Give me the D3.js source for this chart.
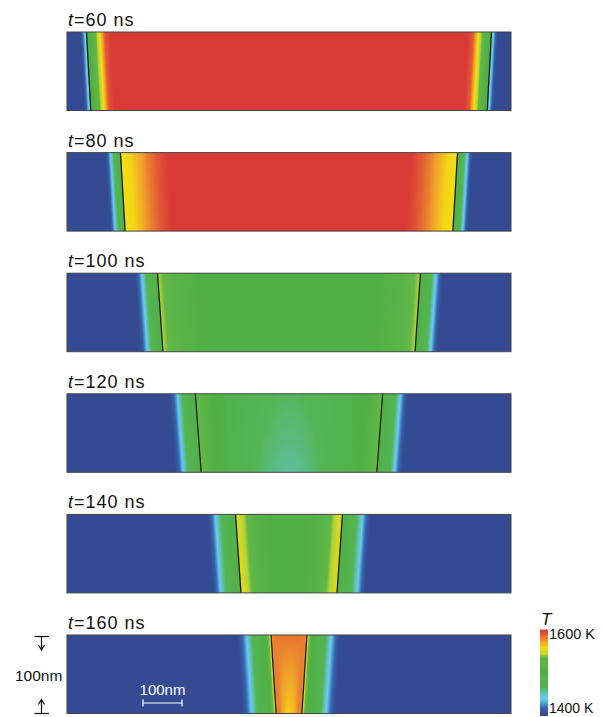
<!DOCTYPE html>
<html>
<head>
<meta charset="utf-8">
<script src="https://cdn.jsdelivr.net/npm/d3@7.9.0/dist/d3.min.js"></script>
<style>
  body { margin: 0; background: #fff; }
  svg text { font-family: "Liberation Sans", Arial, sans-serif; fill: #111; }
</style>
</head>
<body>
<svg id="chart" width="604" height="717"></svg>
<script>
// snapshot times (ns)
const times = [60, 80, 100, 120, 140, 160];
// half width of the molten zone (nm from centre) at top and bottom of the film
const frontTop = [519, 432, 337, 240, 137, 46];
const frontBottom = [508, 420, 323, 225, 123, 33];
// melt temperature in the middle of the zone (K), top and bottom
const meltCenterTop = [1600, 1600, 1498, 1464, 1498, 1582];
const meltCenterBottom = [1600, 1600, 1498, 1456, 1498, 1560];
// temperature profile across the front: [distance from front in nm (neg = melt side), T in K]
const profiles = [
  [[-60, 1600], [-46, 1588], [-36, 1560], [-28, 1545], [-12, 1510], [0, 1490], [1, 1452], [5, 1440], [10, 1420], [16, 1400]],
  [[-120, 1600], [-70, 1580], [-25, 1558], [0, 1555], [0.5, 1500], [16, 1472], [24, 1445], [30, 1425], [38, 1400]],
  [[-110, 1500], [-40, 1520], [0, 1543], [0.5, 1500], [28, 1470], [38, 1445], [46, 1425], [58, 1400]],
  [[-35, 1505], [-15, 1520], [0, 1540], [0.5, 1500], [32, 1470], [44, 1445], [52, 1425], [66, 1400]],
  [[-90, 1500], [-55, 1512], [-20, 1542], [0, 1552], [0.5, 1500], [34, 1470], [50, 1445], [58, 1425], [72, 1400]],
  [[-10, 1580], [0, 1578], [0.5, 1555], [8, 1530], [14, 1500], [46, 1470], [60, 1445], [70, 1425], [86, 1400]]
];
// colour bar
const cbarLabels = ["1600 K", "1400 K"];
const cmapTemps = [1400, 1418, 1430, 1440, 1452, 1465, 1500, 1535, 1542, 1555, 1572, 1588, 1600];
const cmapColors = ["#344a93", "#3a60ab", "#4aa3dc", "#6ccbef", "#62c1b4", "#55b556", "#50b045",
                    "#62b848", "#b5d334", "#f4df12", "#f0a02a", "#e25c34", "#d93a35"];

const svg = d3.select('#chart');

const x0 = 67, W = 444, H = 78.5;
const halfSpan = 569; // nm
const xScale = d3.scaleLinear().domain([-halfSpan, halfSpan]).range([0, W]);
const panelTop = d3.scaleLinear().domain([0, 5]).range([32, 635]);

const color = d3.scaleLinear().domain(cmapTemps).range(cmapColors)
  .interpolate(d3.interpolateRgb).clamp(true);

const profScales = profiles.map(p =>
  d3.scaleLinear().domain(p.map(d => d[0])).range(p.map(d => d[1])).clamp(true));

function tempAt(i, xnm, v) {
  const w = frontTop[i] + (frontBottom[i] - frontTop[i]) * v;
  const d = Math.abs(xnm) - w;
  const first = profiles[i][0];
  if (d >= first[0]) return profScales[i](d);
  // blend from last profile point into the centre value
  const tc = meltCenterTop[i] + (meltCenterBottom[i] - meltCenterTop[i]) * v;
  let f = (d - first[0]) / (-w - first[0]);
  f = Math.max(0, Math.min(1, f));
  f = f * (2 - f);
  return first[1] + (tc - first[1]) * f;
}

times.forEach((t, i) => {
  const top = panelTop(i);

  // temperature field drawn to a canvas, then placed in the svg
  const cw = W, ch = Math.round(H);
  const canvas = document.createElement('canvas');
  canvas.width = cw; canvas.height = ch;
  const ctx = canvas.getContext('2d');
  const img = ctx.createImageData(cw, ch);
  for (let py = 0; py < ch; py++) {
    const v = (py + 0.5) / ch;
    for (let px = 0; px < cw; px++) {
      const xnm = xScale.invert(px + 0.5);
      const c = d3.rgb(color(tempAt(i, xnm, v)));
      const k = (py * cw + px) * 4;
      img.data[k] = c.r; img.data[k + 1] = c.g; img.data[k + 2] = c.b; img.data[k + 3] = 255;
    }
  }
  ctx.putImageData(img, 0, 0);

  const g = svg.append('g').attr('transform', `translate(${x0},${top})`);
  g.append('image')
    .attr('href', canvas.toDataURL())
    .attr('width', W).attr('height', H)
    .attr('preserveAspectRatio', 'none');

  // solid/liquid fronts
  [-1, 1].forEach(s => {
    g.append('line')
      .attr('x1', xScale(s * frontTop[i])).attr('y1', 0)
      .attr('x2', xScale(s * frontBottom[i])).attr('y2', H)
      .attr('stroke', '#1b1b1b').attr('stroke-width', 1.3);
  });

  g.append('rect')
    .attr('width', W).attr('height', H)
    .attr('fill', 'none').attr('stroke', '#454545').attr('stroke-width', 1);

  // title
  const title = svg.append('text')
    .attr('x', x0 + 1).attr('y', top - 6)
    .attr('font-size', 18).attr('letter-spacing', 1);
  title.append('tspan').attr('font-style', 'italic').text('t');
  title.append('tspan').text(`=${t} ns`);
});

// thickness marker on the last panel
const lastTop = panelTop(5);
const ax = 41.5;
const arrows = svg.append('g').attr('stroke', '#111').attr('stroke-width', 1.2).attr('fill', 'none');
arrows.append('line').attr('x1', 34.5).attr('x2', 49).attr('y1', lastTop + 1.5).attr('y2', lastTop + 1.5);
arrows.append('line').attr('x1', ax).attr('x2', ax).attr('y1', lastTop + 1.5).attr('y2', lastTop + 14);
arrows.append('path').attr('d', `M${ax - 3},${lastTop + 10} L${ax},${lastTop + 15} L${ax + 3},${lastTop + 10}`);
arrows.append('line').attr('x1', 34.5).attr('x2', 49).attr('y1', lastTop + H).attr('y2', lastTop + H);
arrows.append('line').attr('x1', ax).attr('x2', ax).attr('y1', lastTop + H).attr('y2', lastTop + H - 13);
arrows.append('path').attr('d', `M${ax - 3},${lastTop + H - 9} L${ax},${lastTop + H - 14} L${ax + 3},${lastTop + H - 9}`);
svg.append('text').attr('x', 15).attr('y', lastTop + 46).attr('font-size', 15.5).text('100nm');

// horizontal scale bar (100 nm)
const sbX = x0 + 76, sbY = lastTop + 68;
const sbLen = xScale(100) - xScale(0);
const sb = svg.append('g').attr('stroke', '#fff').attr('stroke-width', 1.2);
sb.append('line').attr('x1', sbX).attr('x2', sbX + sbLen).attr('y1', sbY).attr('y2', sbY);
sb.append('line').attr('x1', sbX).attr('x2', sbX).attr('y1', sbY - 3.5).attr('y2', sbY + 3.5);
sb.append('line').attr('x1', sbX + sbLen).attr('x2', sbX + sbLen).attr('y1', sbY - 3.5).attr('y2', sbY + 3.5);
svg.append('text').attr('x', sbX + sbLen / 2).attr('y', sbY - 8)
  .attr('text-anchor', 'middle').attr('font-size', 15).style('fill', '#fff').text('100nm');

// colour bar
const cbX = 540, cbW = 8, cbTop = 629.5, cbBot = 716;
const cbScale = d3.scaleLinear().domain([1400, 1600]).range([cbBot, cbTop]);
const grad = svg.append('defs').append('linearGradient')
  .attr('id', 'cbar').attr('x1', 0).attr('x2', 0).attr('y1', 1).attr('y2', 0);
cmapTemps.forEach((tk, k) => {
  grad.append('stop').attr('offset', (tk - 1400) / 200).attr('stop-color', cmapColors[k]);
});
svg.append('rect').attr('x', cbX).attr('y', cbTop).attr('width', cbW).attr('height', cbBot - cbTop)
  .attr('fill', 'url(#cbar)');
svg.append('text').attr('x', cbX + 1).attr('y', cbTop - 4.5)
  .attr('font-size', 17).attr('font-style', 'italic').text('T');
svg.append('text').attr('x', cbX + 9).attr('y', cbScale(1600) + 9)
  .attr('font-size', 14.5).text(cbarLabels[0]);
svg.append('text').attr('x', cbX + 9).attr('y', cbScale(1400) - 3)
  .attr('font-size', 14).text(cbarLabels[1]);
</script>
</body>
</html>
